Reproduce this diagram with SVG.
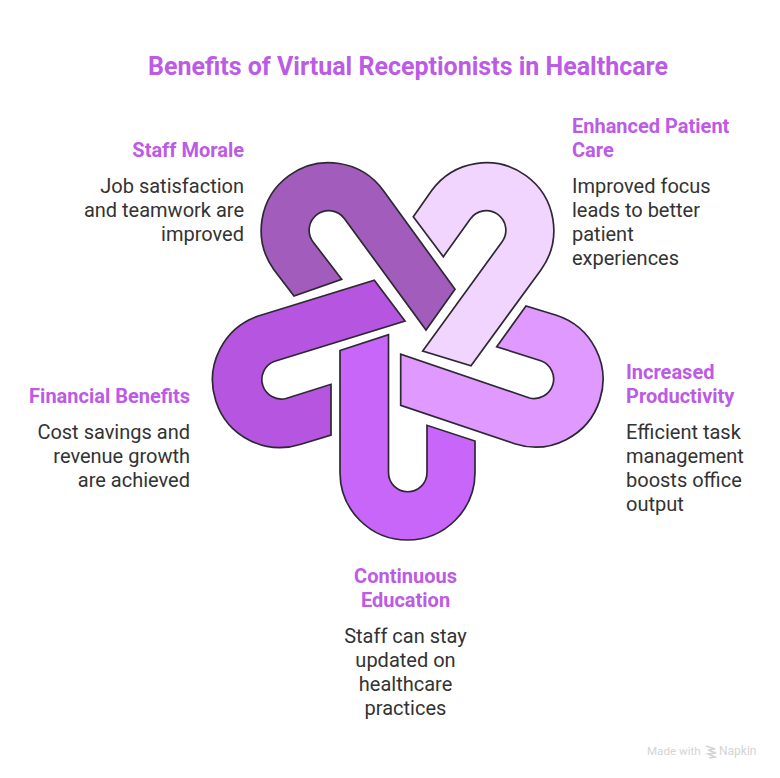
<svg xmlns="http://www.w3.org/2000/svg" width="780" height="778" viewBox="0 0 780 778">
<style>
text{font-family:Roboto,"Liberation Sans",sans-serif}
.t{font-size:25px;font-weight:700;fill:#bb5be6}
.h{font-size:20px;font-weight:700;fill:#bb5be6}
.b{font-size:20px;fill:#333}
.e{text-anchor:end}
.m{text-anchor:middle}
.p{stroke:#2d2833;stroke-width:1.7;stroke-linejoin:miter}
.w{font-size:12px;fill:#d4d4d4}
</style>
<rect width="780" height="778" fill="#fff"/>
<text class="t m" x="408" y="75">Benefits of Virtual Receptionists in Healthcare</text>
<g id="connectors"></g>
<g id="staff-morale">
<path class="p" fill="#a25cbc" d="M455 289.300L383.300 190.500A67.500 67.500 0 0 0 274.100 269.900L294 296L341.700 279.300L312.900 241.700A19.500 19.500 0 0 1 344.500 218.700L426 330Z"/>
<text class="h e" x="244" y="157">Staff Morale</text>
<text class="b e" x="244" y="193">Job satisfaction</text>
<text class="b e" x="244" y="217">and teamwork are</text>
<text class="b e" x="244" y="241">improved</text>
</g>
<g id="enhanced-patient-care">
<path class="p" fill="#f2d5ff" d="M413.300 216.700L431.700 190.500A67.500 67.500 0 0 1 540.900 269.900L471 365.700L422.700 351L502.100 241.700A19.500 19.500 0 0 0 470.500 218.700L443.300 256.700Z"/>
<text class="h" x="572" y="133">Enhanced Patient</text>
<text class="h" x="572" y="157">Care</text>
<text class="b" x="572" y="193">Improved focus</text>
<text class="b" x="572" y="217">leads to better</text>
<text class="b" x="572" y="241">patient</text>
<text class="b" x="572" y="265">experiences</text>
</g>
<g id="increased-productivity">
<path class="p" fill="#df99ff" d="M400.700 354.300V405.300L514.600 443.700A67.500 67.500 0 0 0 556.400 315.300L526 306L496.700 346.700L541.500 361A19.500 19.500 0 0 1 529.500 398Z"/>
<text class="h" x="626" y="379">Increased</text>
<text class="h" x="626" y="403">Productivity</text>
<text class="b" x="626" y="439">Efficient task</text>
<text class="b" x="626" y="463">management</text>
<text class="b" x="626" y="487">boosts office</text>
<text class="b" x="626" y="511">output</text>
</g>
<g id="continuous-education">
<path class="p" fill="#c866f9" d="M340 350.500L388.500 334.700V472.500A19.250 19.250 0 0 0 427 472.500V425.300L475 441V472.500A67.500 67.500 0 0 1 340 472.500Z"/>
<text class="h m" x="405.500" y="583">Continuous</text>
<text class="h m" x="405.500" y="607">Education</text>
<text class="b m" x="405.500" y="643">Staff can stay</text>
<text class="b m" x="405.500" y="667">updated on</text>
<text class="b m" x="405.500" y="691">healthcare</text>
<text class="b m" x="405.500" y="715">practices</text>
</g>
<g id="financial-benefits">
<path class="p" fill="#b656e0" d="M405 321L374.300 280.300L259.100 315.800A67.500 67.500 0 0 0 300.900 444.200L331 435V384.300L286 398.500A19.500 19.500 0 0 1 274 361.500Z"/>
<text class="h e" x="190" y="403">Financial Benefits</text>
<text class="b e" x="190" y="439">Cost savings and</text>
<text class="b e" x="190" y="463">revenue growth</text>
<text class="b e" x="190" y="487">are achieved</text>
</g>
<g id="watermark">
<text class="w" x="647" y="755" style="font-size:11.6px">Made with</text>
<path d="M706 746l9 3-7 1 8 3-8 1 7 3-6 1" fill="none" stroke="#d4d4d4" stroke-width="1.6"/>
<text class="w" x="719" y="755">Napkin</text>
</g>
</svg>
